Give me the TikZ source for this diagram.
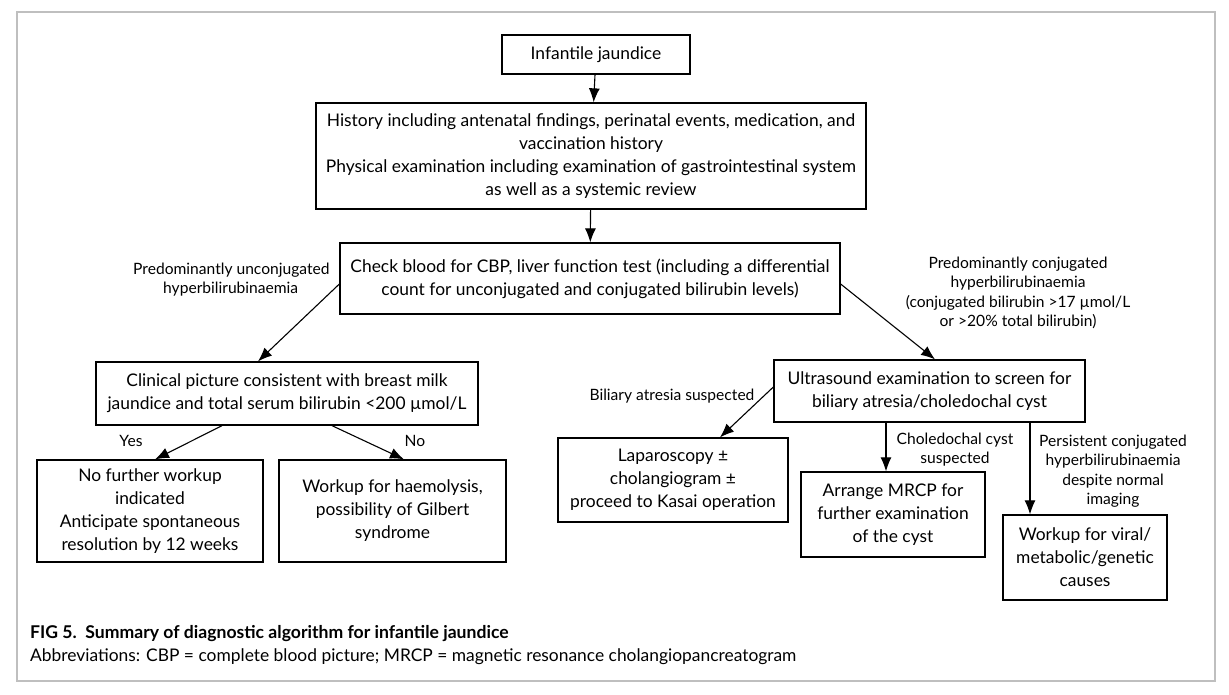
\documentclass[tikz,border=0pt]{standalone}
\usepackage{fontspec}
\setmainfont{Lato}
\usetikzlibrary{arrows.meta,calc}
\begin{document}
\begin{tikzpicture}[x=1pt,y=-1pt,
  box/.style={draw,line width=1.3pt,align=center,inner sep=2pt,font=\fontsize{17.4}{23}\selectfont},
  lbl/.style={align=center,inner sep=1pt,font=\fontsize{15.6}{19.5}\selectfont},
  arr/.style={line width=1.1pt,-{Latex[length=14pt,width=11pt]}}]
\useasboundingbox (0,0) rectangle (1229,694);
\draw[line width=1.5pt,color=black!25] (17,12) rectangle (1215,681);
\node[box,minimum width=188pt,minimum height=39pt] (ij) at (596,54.5) {Infantile jaundice};
\node[box,minimum width=550pt,minimum height=106pt] (hist) at (591,156) {History including antenatal findings, perinatal events, medication, and\\vaccination history\\Physical examination including examination of gastrointestinal system\\as well as a systemic review};
\node[box,minimum width=500pt,minimum height=71pt] (chk) at (590,278.5) {Check blood for CBP, liver function test (including a differential\\count for unconjugated and conjugated bilirubin levels)};
\node[box,minimum width=382pt,minimum height=63pt] (cl) at (287,393.5) {Clinical picture consistent with breast milk\\jaundice and total serum bilirubin <200 µmol/L};
\node[box,minimum width=226pt,minimum height=102pt] (nf) at (150,511) {No further workup\\indicated\\Anticipate spontaneous\\resolution by 12 weeks};
\node[box,minimum width=227pt,minimum height=102pt] (hae) at (392.5,511) {Workup for haemolysis,\\possibility of Gilbert\\syndrome};
\node[box,minimum width=311pt,minimum height=62pt] (us) at (929.5,391) {Ultrasound examination to screen for\\biliary atresia/choledochal cyst};
\node[box,minimum width=230pt,minimum height=84pt] (lap) at (673,480) {Laparoscopy ±\\cholangiogram ±\\proceed to Kasai operation};
\node[box,minimum width=184pt,minimum height=85pt] (mrcp) at (893,514.5) {Arrange MRCP for\\further examination\\of the cyst};
\node[box,minimum width=164pt,minimum height=85pt] (vir) at (1085,557.5) {Workup for viral/\\metabolic/genetic\\causes};
% labels
\node[lbl,anchor=west] (l1a) at (132,270) {Predominantly unconjugated};
\node[lbl,anchor=west] (l1b) at (162,289) {hyperbilirubinaemia};
\node[lbl] (l2) at (1018,293) {Predominantly conjugated\\hyperbilirubinaemia\\(conjugated bilirubin >17 µmol/L\\or >20\% total bilirubin)};
\node[lbl] (l3) at (672,396) {Biliary atresia suspected};
\node[lbl] (l4) at (131,441) {Yes};
\node[lbl] (l5) at (415,441) {No};
\node[lbl] (l6) at (955,449.5) {Choledochal cyst\\suspected};
\node[lbl] (l7) at (1113,471) {Persistent conjugated\\hyperbilirubinaemia\\despite normal\\imaging};
% arrows
\draw[arr] (ij) -- (hist);
\draw[arr] (hist) -- (chk);
\draw[arr] ([yshift=-5.5pt]chk.west) -- ([xshift=-29pt]cl.north);
\draw[arr] ([yshift=-5.5pt]chk.east) -- ([xshift=5.5pt]us.north);
\draw[arr] ([xshift=-65pt]cl.south) -- ([xshift=5pt]nf.north);
\draw[arr] ([xshift=45pt]cl.south) -- ([xshift=11.5pt]hae.north);
\draw[arr] ([yshift=4pt]us.west) -- ([xshift=47pt]lap.north);
\coordinate (m1) at ([xshift=-43.5pt]us.south);
\coordinate (m2) at ([xshift=100.5pt]us.south);
\draw[arr] (m1) -- (m1 |- mrcp.north);
\draw[arr] (m2) -- (m2 |- vir.north);
% caption
\node[anchor=base west,inner sep=0pt,font=\fontsize{17.6}{20}\selectfont\bfseries] (cap1) at (30,638) {FIG 5.\ \ Summary of diagnostic algorithm for infantile jaundice};
\node[anchor=base west,inner sep=0pt,font=\fontsize{17.4}{20}\selectfont] (cap2) at (30,661) {Abbreviations: CBP = complete blood picture; MRCP = magnetic resonance cholangiopancreatogram};
\end{tikzpicture}
\end{document}
